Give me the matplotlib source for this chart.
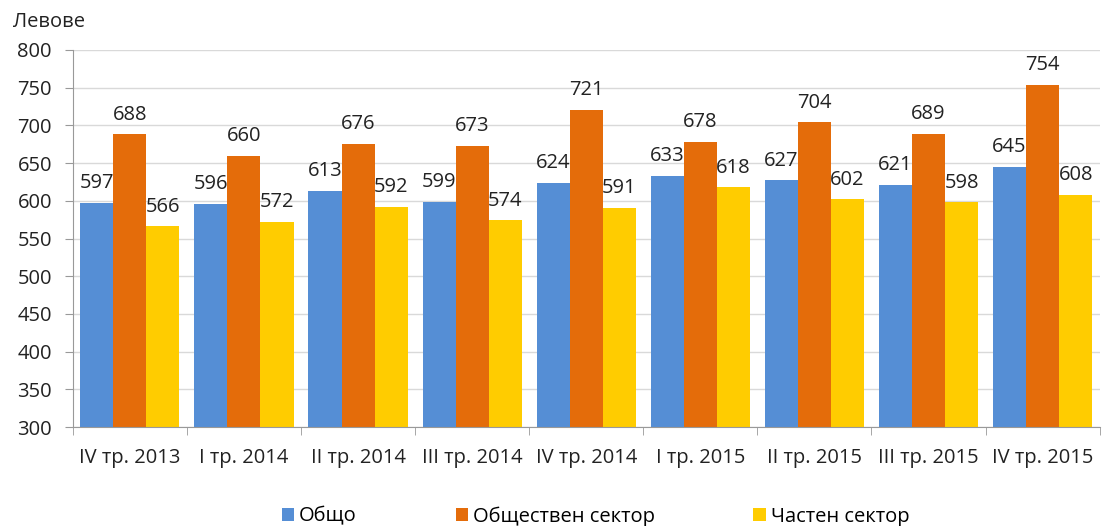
import matplotlib.pyplot as plt
import numpy as np

plt.rcParams['font.family'] = ['Open Sans', 'DejaVu Sans']

quarters = ['IV тр. 2013', 'I тр. 2014', 'II тр. 2014', 'III тр. 2014', 'IV тр. 2014',
            'I тр. 2015', 'II тр. 2015', 'III тр. 2015', 'IV тр. 2015']
total = [597, 596, 613, 599, 624, 633, 627, 621, 645]
public = [688, 660, 676, 673, 721, 678, 704, 689, 754]
private = [566, 572, 592, 574, 591, 618, 602, 598, 608]

names = ['Общо', 'Обществен сектор', 'Частен сектор']
colors = ['#558ED5', '#E46C0A', '#FFCC00']
fs = 14.5
txt = '#222222'

fig = plt.figure(figsize=(11.03, 5.26), dpi=100)
ax = fig.add_axes([0.066, 0.188, 0.931, 0.717])

x = np.arange(len(quarters))
w = 0.29
for i, (vals, name, c) in enumerate(zip([total, public, private], names, colors)):
    pos = x + (i - 1) * w
    ax.bar(pos, [v - 300 for v in vals], w, bottom=300, color=c, label=name)
    for p, v in zip(pos, vals):
        ax.annotate(str(v), (p, v), xytext=(0, 7), textcoords='offset points',
                    ha='center', va='bottom', fontsize=fs, color=txt)

ax.set_ylim(300, 800)
ax.set_xlim(-0.5, len(quarters) - 0.5)
ax.set_yticks(range(300, 801, 50))
ax.tick_params(axis='y', labelsize=fs, colors='#999999', labelcolor=txt, length=6, pad=9)
ax.yaxis.grid(True, color='#D9D9D9', linewidth=1)
ax.set_axisbelow(True)

ax.set_xticks(x)
ax.set_xticklabels(quarters, fontsize=fs, color=txt)
ax.set_xticks(np.arange(-0.5, len(quarters), 1), minor=True)
ax.tick_params(axis='x', which='major', length=0, pad=15)
ax.tick_params(axis='x', which='minor', length=6, color='#999999')

for s in ['top', 'right']:
    ax.spines[s].set_visible(False)
ax.spines['left'].set_color('#999999')
ax.spines['bottom'].set_color('#999999')

fig.text(0.012, 0.958, 'Левове', fontsize=fs, color=txt, va='center')

fig.legend(loc='lower center', bbox_to_anchor=(0.54, -0.036), ncol=3, frameon=False,
           fontsize=fs, handlelength=0.6, handleheight=0.6, handletextpad=0.25,
           columnspacing=4.9)

fig.savefig('out.png', dpi=100)
